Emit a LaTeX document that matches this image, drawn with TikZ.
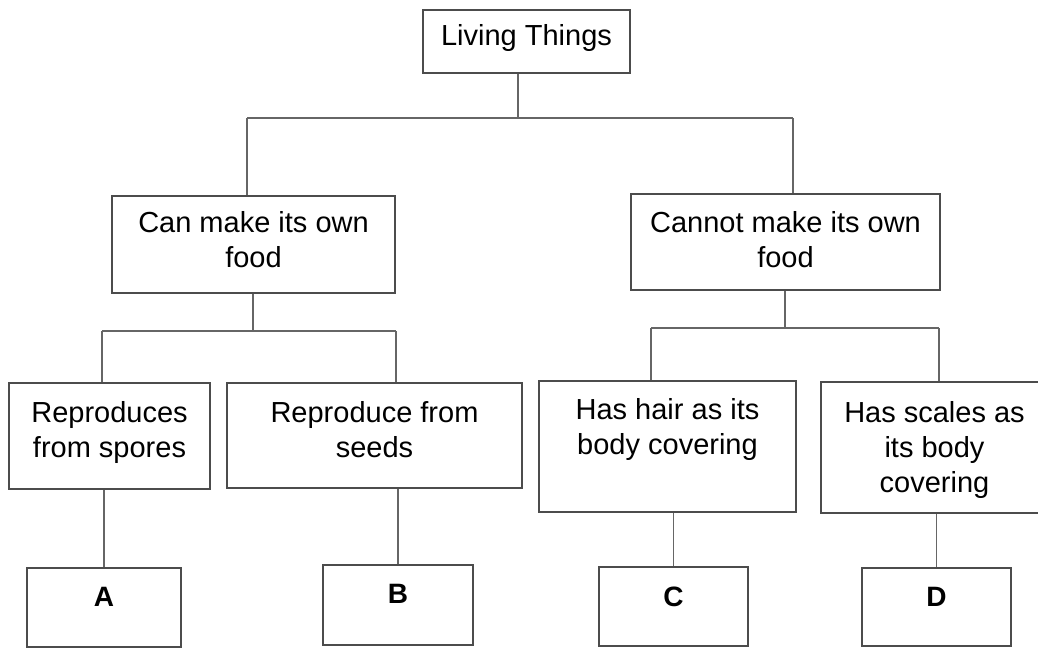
\documentclass[tikz,border=0pt]{standalone}
\usepackage{fontspec}
\setmainfont{Liberation Sans}
\usetikzlibrary{positioning}

\tikzset{
  box/.style={draw=black!70, line width=0.9pt, inner sep=0pt},
  txt/.style={align=center, inner sep=0pt, font=\fontsize{14.5}{17.5}\selectfont},
  letter/.style={inner sep=0pt, font=\fontsize{14}{17.5}\selectfont\bfseries},
  link/.style={draw=black!60, line width=0.9pt}
}

\begin{document}
\begin{tikzpicture}[x=0.5pt,y=0.5pt,yscale=-1,xscale=1]
    \useasboundingbox (0,0) rectangle (1038,648);

    % Boxes
    \node [box, minimum width=103.5pt, minimum height=31.5pt] (root) at (526.5,41.5) {};
    \node [box, minimum width=141.5pt, minimum height=48.5pt] (canfood) at (253.5,244.5) {};
    \node [box, minimum width=154.5pt, minimum height=48pt] (cannot) at (785.5,242) {};
    \node [box, minimum width=100.5pt, minimum height=53pt] (spores) at (109.5,436) {};
    \node [box, minimum width=147.5pt, minimum height=52.5pt] (seeds) at (374.5,435.5) {};
    \node [box, minimum width=128.5pt, minimum height=65.5pt] (hair) at (667.5,446.5) {};
    \node [box, minimum width=113.5pt, minimum height=65.5pt] (scales) at (934.5,447.5) {};
    \node [box, minimum width=77pt, minimum height=39.5pt] (boxA) at (104,607.5) {};
    \node [box, minimum width=75pt, minimum height=40pt] (boxB) at (398,605) {};
    \node [box, minimum width=74.5pt, minimum height=39.5pt] (boxC) at (673.5,606.5) {};
    \node [box, minimum width=74.5pt, minimum height=39pt] (boxD) at (936.5,607) {};

    % Text Node
    \node [txt, below=7.5pt of root.north] (t-root) {Living Things};
    \node [txt, below=8pt of canfood.north] (t-canfood) {Can make its own\\food};
    \node [txt, below=9pt of cannot.north] (t-cannot) {Cannot make its own\\food};
    \node [txt, below=9.5pt of spores.north] (t-spores) {Reproduces\\from spores};
    \node [txt, below=9.5pt of seeds.north] (t-seeds) {Reproduce from\\seeds};
    \node [txt, below=9pt of hair.north] (t-hair) {Has hair as its\\body covering};
    \node [txt, below=10pt of scales.north] (t-scales) {Has scales as\\its body\\covering};
    \node [letter, below=10pt of boxA.north] (t-A) {A};
    \node [letter, below=10pt of boxB.north] (t-B) {B};
    \node [letter, below=10pt of boxC.north] (t-C) {C};
    \node [letter, below=10pt of boxD.north] (t-D) {D};

    % Bracket under Living Things
    \coordinate (j0) at (518,118);
    \coordinate (j1) at (247,118);
    \coordinate (j2) at (793,118);
    \draw [link] (root.south -| j0) -- (j0);
    \draw [link] (j1) -- (j2);
    \draw [link] (j1) -- (j1 |- canfood.north);
    \draw [link] (j2) -- (j2 |- cannot.north);

    % Bracket under Can make its own food
    \coordinate (p0) at (253,331);
    \coordinate (p1) at (102,331);
    \coordinate (p2) at (396,331);
    \draw [link] (canfood.south -| p0) -- (p0);
    \draw [link] (p1) -- (p2);
    \draw [link] (p1) -- (p1 |- spores.north);
    \draw [link] (p2) -- (p2 |- seeds.north);

    % Bracket under Cannot make its own food
    \coordinate (q0) at (785,328);
    \coordinate (q1) at (651,328);
    \coordinate (q2) at (939,328);
    \draw [link] (cannot.south -| q0) -- (q0);
    \draw [link] (q1) -- (q2);
    \draw [link] (q1) -- (q1 |- hair.north);
    \draw [link] (q2) -- (q2 |- scales.north);

    % Stems to the letters
    \draw [link] (spores.south -| boxA.north) -- (boxA.north);
    \draw [link] (seeds.south -| boxB.north) -- (boxB.north);
    \draw [link] (hair.south -| boxC.north) -- (boxC.north);
    \draw [link] (scales.south -| boxD.north) -- (boxD.north);

\end{tikzpicture}
\end{document}
